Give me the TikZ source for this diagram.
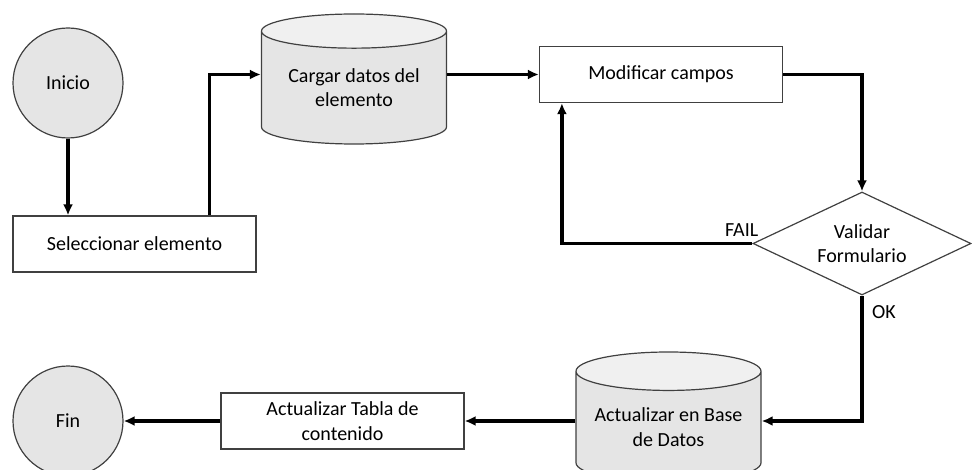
\documentclass[tikz,border=0pt]{standalone}
\usepackage{fontspec}
\setmainfont{Carlito}
\usetikzlibrary{arrows.meta,shapes.geometric,positioning}

\tikzset{
  every node/.style={font=\fontsize{20}{24.5}\selectfont},
  caja/.style={draw=black!75, line width=1.2pt, rectangle, minimum width=243pt, minimum height=56pt, align=center, inner sep=2pt},
  circulo/.style={draw=black!75, line width=1.2pt, circle, fill=black!10, minimum size=110pt, inner sep=0pt},
  basedatos/.style={draw=black!75, line width=1.2pt, cylinder, shape border rotate=90, aspect=0.26,
    cylinder uses custom fill, cylinder body fill=black!10, cylinder end fill=black!6,
    minimum width=185pt, minimum height=130pt, align=center, inner sep=0pt, anchor=shape center},
  decision/.style={draw=black!75, line width=1.2pt, diamond, minimum width=218pt, minimum height=103pt, aspect=2.1, align=center, inner sep=0pt},
  flecha/.style={line width=3.2pt, -{Latex[length=11pt,width=10pt]}}
}

\begin{document}
\begin{tikzpicture}[x=1pt,y=-1pt]
        \clip (0,0) rectangle (972,470);
        \useasboundingbox (0,0) rectangle (972,470);
        % nodos
        \node[circulo] (inicio) at (68,83) {Inicio};
        \node[caja] (sel) at (134.5,244) {Seleccionar elemento};
        \node[basedatos] (cargar) at (354,79) {Cargar datos del\\elemento};
        \node[caja] (modif) at (661,74.5) {Modificar campos};
        \node[decision] (valid) at (862,243.5) {Validar\\Formulario};
        \node[basedatos] (actbd) at (668.5,417) {Actualizar en Base\\de Datos};
        \node[caja] (tabla) at (342.5,421) {Actualizar Tabla de\\contenido};
        \node[circulo] (fin) at (68,421) {Fin};
        % conectores
        \draw[flecha] (inicio.south) -- (inicio.south |- sel.north);
        \draw[flecha] ([xshift=-47pt]sel.north east) |- (cargar.west |- modif.west);
        \draw[flecha] (cargar.east |- modif.west) -- (modif.west);
        \draw[flecha] (modif.east) -| (valid.north);
        \draw[flecha] (valid.west) -| ([xshift=23pt]modif.south west);
        \node[anchor=south east, inner sep=2pt] (fail) at ([xshift=8pt,yshift=5pt]valid.west) {FAIL};
        \draw[flecha] (valid.south) |- (actbd.east |- tabla.east);
        \node[anchor=north west, inner sep=2pt] (ok) at ([xshift=8pt,yshift=-8pt]valid.south) {OK};
        \draw[flecha] (actbd.west |- tabla.east) -- (tabla.east);
        \draw[flecha] (tabla.west) -- (fin.east);
\end{tikzpicture}
\end{document}
